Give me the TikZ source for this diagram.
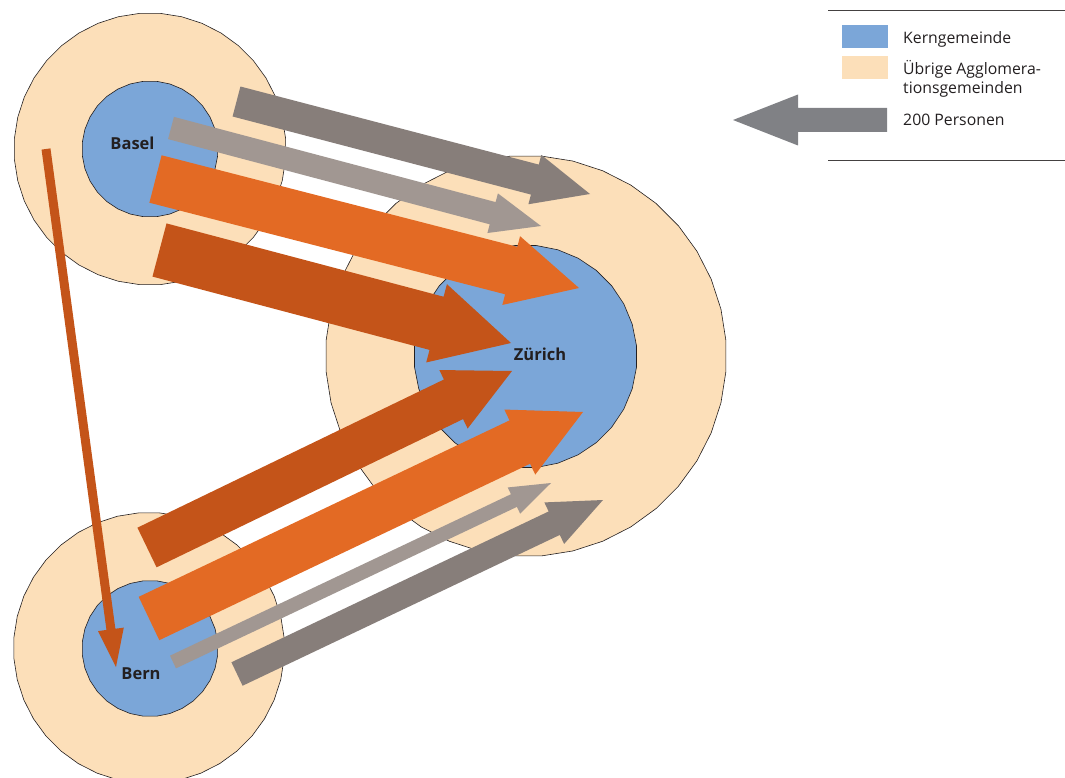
\documentclass[tikz,border=0pt]{standalone}
\usepackage{fontspec}
\setmainfont{Open Sans}
\usetikzlibrary{calc,shapes.geometric}

\definecolor{zonefill}{HTML}{FCDFB9}
\definecolor{corefill}{HTML}{7BA6D8}
\definecolor{flowdark}{HTML}{C45419}
\definecolor{flowmid}{HTML}{E36A24}
\definecolor{flowgrey}{HTML}{877E7A}
\definecolor{flowlight}{HTML}{A19792}
\definecolor{keygrey}{HTML}{808185}
\definecolor{ink}{HTML}{231F20}

% block arrow: fill, tail centre, tip, half shaft width, half head width, head length
\newcommand\blockarrow[6]{%
  \path (#2) coordinate (ba-t) (#3) coordinate (ba-h);
  \path ($(ba-h)!#6!(ba-t)$) coordinate (ba-b);
  \fill[#1] ($(ba-t)!#4!90:(ba-h)$) -- ($(ba-b)!#4!90:(ba-h)$)
    -- ($(ba-b)!#5!90:(ba-h)$) -- (ba-h) -- ($(ba-b)!#5!-90:(ba-h)$)
    -- ($(ba-b)!#4!-90:(ba-h)$) -- ($(ba-t)!#4!-90:(ba-h)$) -- cycle;
}

\begin{document}
\begin{tikzpicture}[x=1pt,y=-1pt,
  zone/.style={regular polygon, regular polygon sides=40, inner sep=0pt,
    draw=ink, line width=0.6pt, fill=zonefill},
  core/.style={regular polygon, regular polygon sides=32, inner sep=0pt,
    draw=ink, line width=0.6pt, fill=corefill},
  city/.style={font=\bfseries\fontsize{16.5}{18}\selectfont, text=ink, inner sep=0pt},
  keytext/.style={font=\fontsize{15.8}{19}\selectfont, text=ink, inner sep=0pt, anchor=base west},
  rule/.style={draw=ink!85, line width=0.8pt}]
\useasboundingbox (0,0) rectangle (1065,778);
\clip (0,0) rectangle (1065,778);

% agglomerations: surrounding municipalities and core city
\node[zone, minimum size=272] (baselO) at (150,149) {};
\node[core, minimum size=136] (baselK) at (150,149) {};
\node[zone, minimum size=401] (zuerichO) at (526,356) {};
\node[core, minimum size=223] (zuerichK) at (525.5,356.5) {};
\node[zone, minimum size=271] (bernO) at (149,648) {};
\node[core, minimum size=136] (bernK) at (150,648.5) {};

% flow end points
\coordinate (bsA) at (236.5,101.5); \coordinate (zhA) at (590,194);
\coordinate (bsB) at (171,128);     \coordinate (zhB) at (541,226);
\coordinate (bsC) at (155.5,179);   \coordinate (zhC) at (579,288);
\coordinate (bsD) at (159.5,250);   \coordinate (zhD) at (511,343);
\coordinate (beA) at (147,547.5);   \coordinate (zhE) at (512,371);
\coordinate (beB) at (149,618.5);   \coordinate (zhF) at (583,412);
\coordinate (beC) at (173,662);     \coordinate (zhG) at (551,483);
\coordinate (beD) at (237,674);     \coordinate (zhH) at (603,500);
\coordinate (bsE) at (46,149);      \coordinate (beE) at (116,667);

% commuter flows
\blockarrow{flowgrey}{bsA}{zhA}{15.5pt}{25.5pt}{57pt}
\blockarrow{flowlight}{bsB}{zhB}{11.5pt}{20.5pt}{50pt}
\blockarrow{flowmid}{bsC}{zhC}{24.5pt}{35.5pt}{70pt}
\blockarrow{flowdark}{bsD}{zhD}{27.5pt}{40.5pt}{77pt}
\blockarrow{flowlight}{beC}{zhG}{7pt}{14.5pt}{41pt}
\blockarrow{flowgrey}{beD}{zhH}{13pt}{23pt}{54pt}
\blockarrow{flowmid}{beB}{zhF}{24pt}{36pt}{70pt}
\blockarrow{flowdark}{beA}{zhE}{22pt}{32.5pt}{65pt}
\blockarrow{flowdark}{bsE}{beE}{4.5pt}{13pt}{38pt}

% city names
\node[city] (baselL) at (132.5,143.5) {Basel};
\node[city] (zuerichL) at (540,354.5) {Zürich};
\node[city] (bernL) at (141,674) {Bern};

% key
\draw[rule] (828,10.5) coordinate (keyTop) -- (1065,10.5);
\draw[rule] (828,160.5) coordinate (keyBot) -- (1065,160.5);
\fill[corefill] (842,25) rectangle (888,48);
\fill[zonefill] (842,56) rectangle (888,79);
\coordinate (keyT) at (887,120); \coordinate (keyH) at (733,120);
\blockarrow{keygrey}{keyT}{keyH}{12pt}{25.5pt}{65pt}
\node[keytext] (k1) at (903,43.5) {Kerngemeinde};
\node[keytext] (k2) at (903,74.5) {Übrige Agglomera-};
\node[keytext] (k3) at (903,94) {tionsgemeinden};
\node[keytext] (k4) at (903,126) {200 Personen};
\end{tikzpicture}
\end{document}
